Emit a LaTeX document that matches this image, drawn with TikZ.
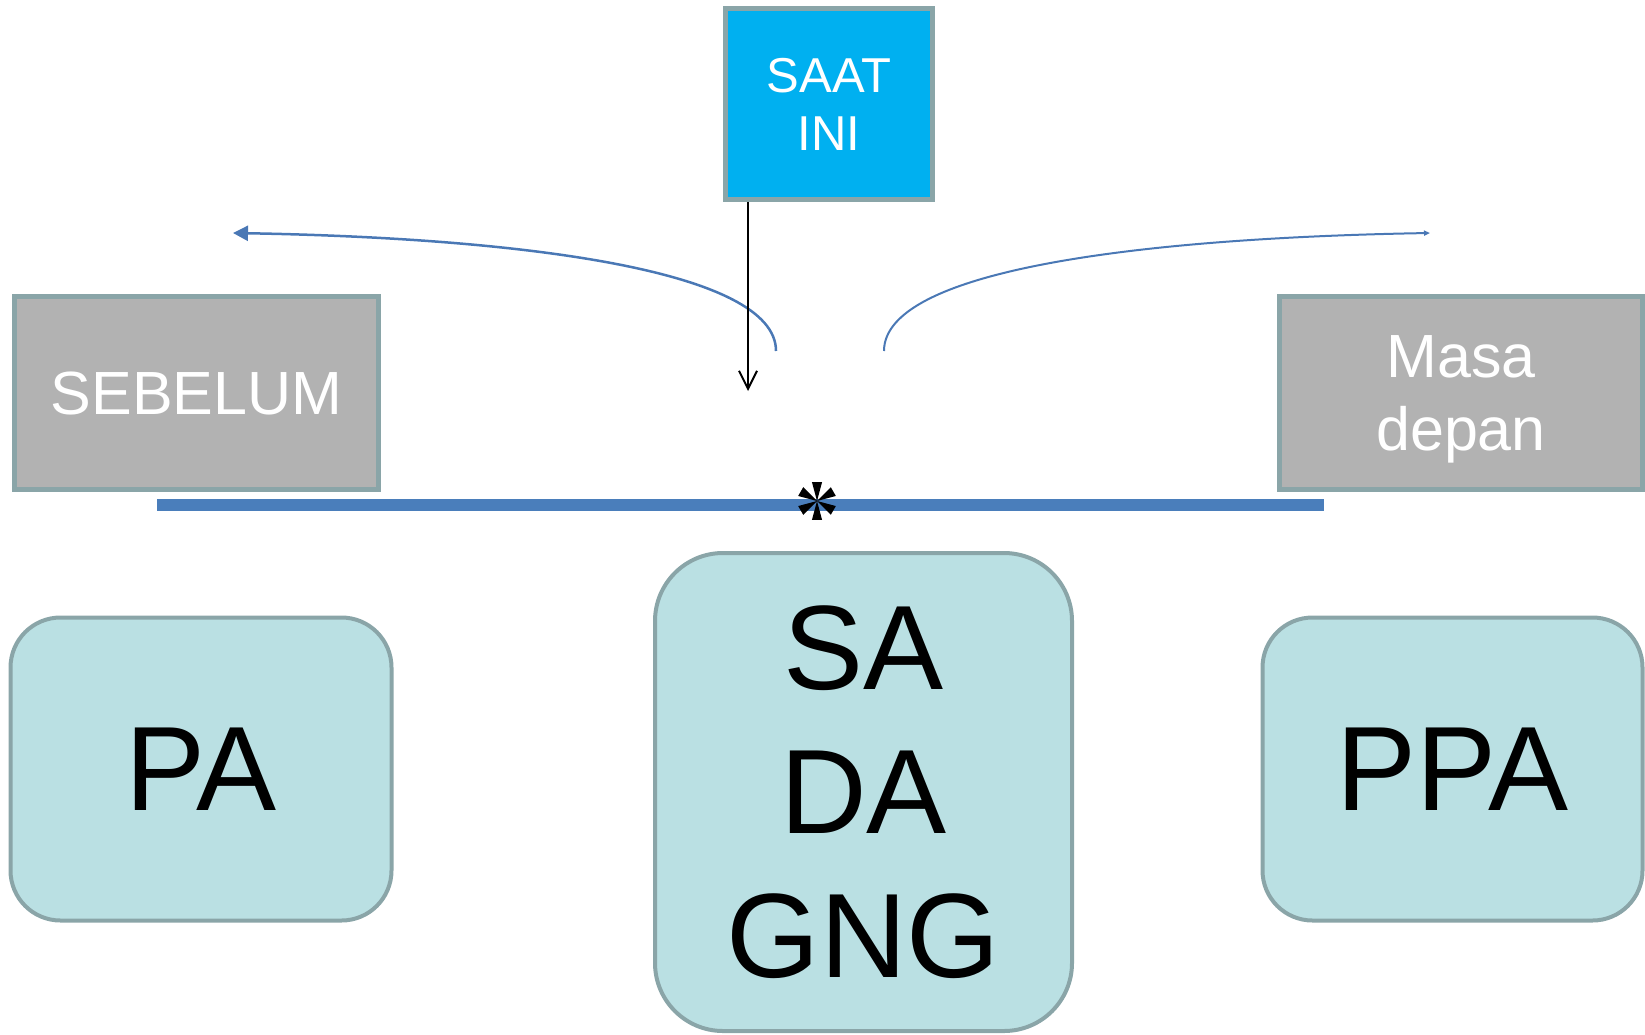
\documentclass[tikz,border=0pt]{standalone}
\usepackage{fontspec}
\newfontfamily\arialf{Liberation Sans}
\usetikzlibrary{arrows.meta}
\definecolor{boxborder}{HTML}{8AA5A8}
\definecolor{tealfill}{HTML}{BAE0E3}
\definecolor{grayfill}{HTML}{B2B2B2}
\definecolor{cyanfill}{HTML}{00B0F0}
\definecolor{lineblue}{HTML}{4A7EBB}
\definecolor{curveblue}{HTML}{4A78B5}
\begin{document}
\begin{tikzpicture}[x=1pt,y=-1pt,
  cyanbox/.style={draw=boxborder, line width=5pt, fill=cyanfill, text=white, align=center, inner sep=0pt,
    font=\arialf\fontsize{49}{58}\selectfont},
  graybox/.style={draw=boxborder, line width=4.5pt, fill=grayfill, text=white, align=center, inner sep=0pt,
    font=\arialf\fontsize{61}{73}\selectfont},
  roundbox/.style={draw=boxborder, line width=4pt, fill=tealfill, text=black, align=center, inner sep=0pt,
    font=\arialf\fontsize{120}{144}\selectfont},
  timeline/.style={lineblue, line width=12pt},
  curvearrow/.style={curveblue, line width=2.5pt},
  downarrow/.style={black, line width=2pt, -{Straight Barb[length=18pt,width=18pt]}}
]
\useasboundingbox (0,0) rectangle (1645,1034);

% top box
\node[cyanbox, minimum width=207pt, minimum height=191pt] (saat) at (829,104) {SAAT\\INI};

% gray boxes
\node[graybox, minimum width=364pt, minimum height=193pt] (sebelum) at (196.5,393) {SEBELUM};
\node[graybox, minimum width=363pt, minimum height=193pt, text depth=0pt] (masa) at (1461,393) {Masa\\depan};

% time line
\coordinate (tl) at (157,505);
\coordinate (tr) at (1324,505);
\draw[timeline] (tl) -- (tr);
\coordinate (star) at (817,501);
\foreach \a in {90,30,-30,-90,150,210}
  \fill[black, shift={(star)}] (0,0) -- (\a-15:19.5) -- (\a+15:19.5) -- cycle;

% curves
\coordinate (lstart) at (776,351);
\coordinate (lend) at (233,233);
\draw[curvearrow, -{Triangle[length=15pt,width=15pt]}] (lstart) .. controls (776,270) and (520,238) .. (lend);
\coordinate (rstart) at (884,351);
\coordinate (rend) at (1430,233);
\draw[curvearrow, line width=2pt, -{Triangle[length=6pt,width=5pt]}] (rstart) .. controls (884,270) and (1140,238) .. (rend);

% down arrow
\coordinate (downtip) at (748,391);
\draw[downarrow] (saat.south -| downtip) -- (downtip);

% bottom boxes
\node[roundbox, rounded corners=50pt, minimum width=381pt, minimum height=303pt] (pa) at (201,769) {PA};
\node[roundbox, rounded corners=68pt, minimum width=417pt, minimum height=478pt, text depth=-7pt] (sadagng) at (863.5,792) {SA\\DA\\GNG};
\node[roundbox, rounded corners=50pt, minimum width=380pt, minimum height=303pt] (ppa) at (1452.5,769) {PPA};
\end{tikzpicture}
\end{document}
